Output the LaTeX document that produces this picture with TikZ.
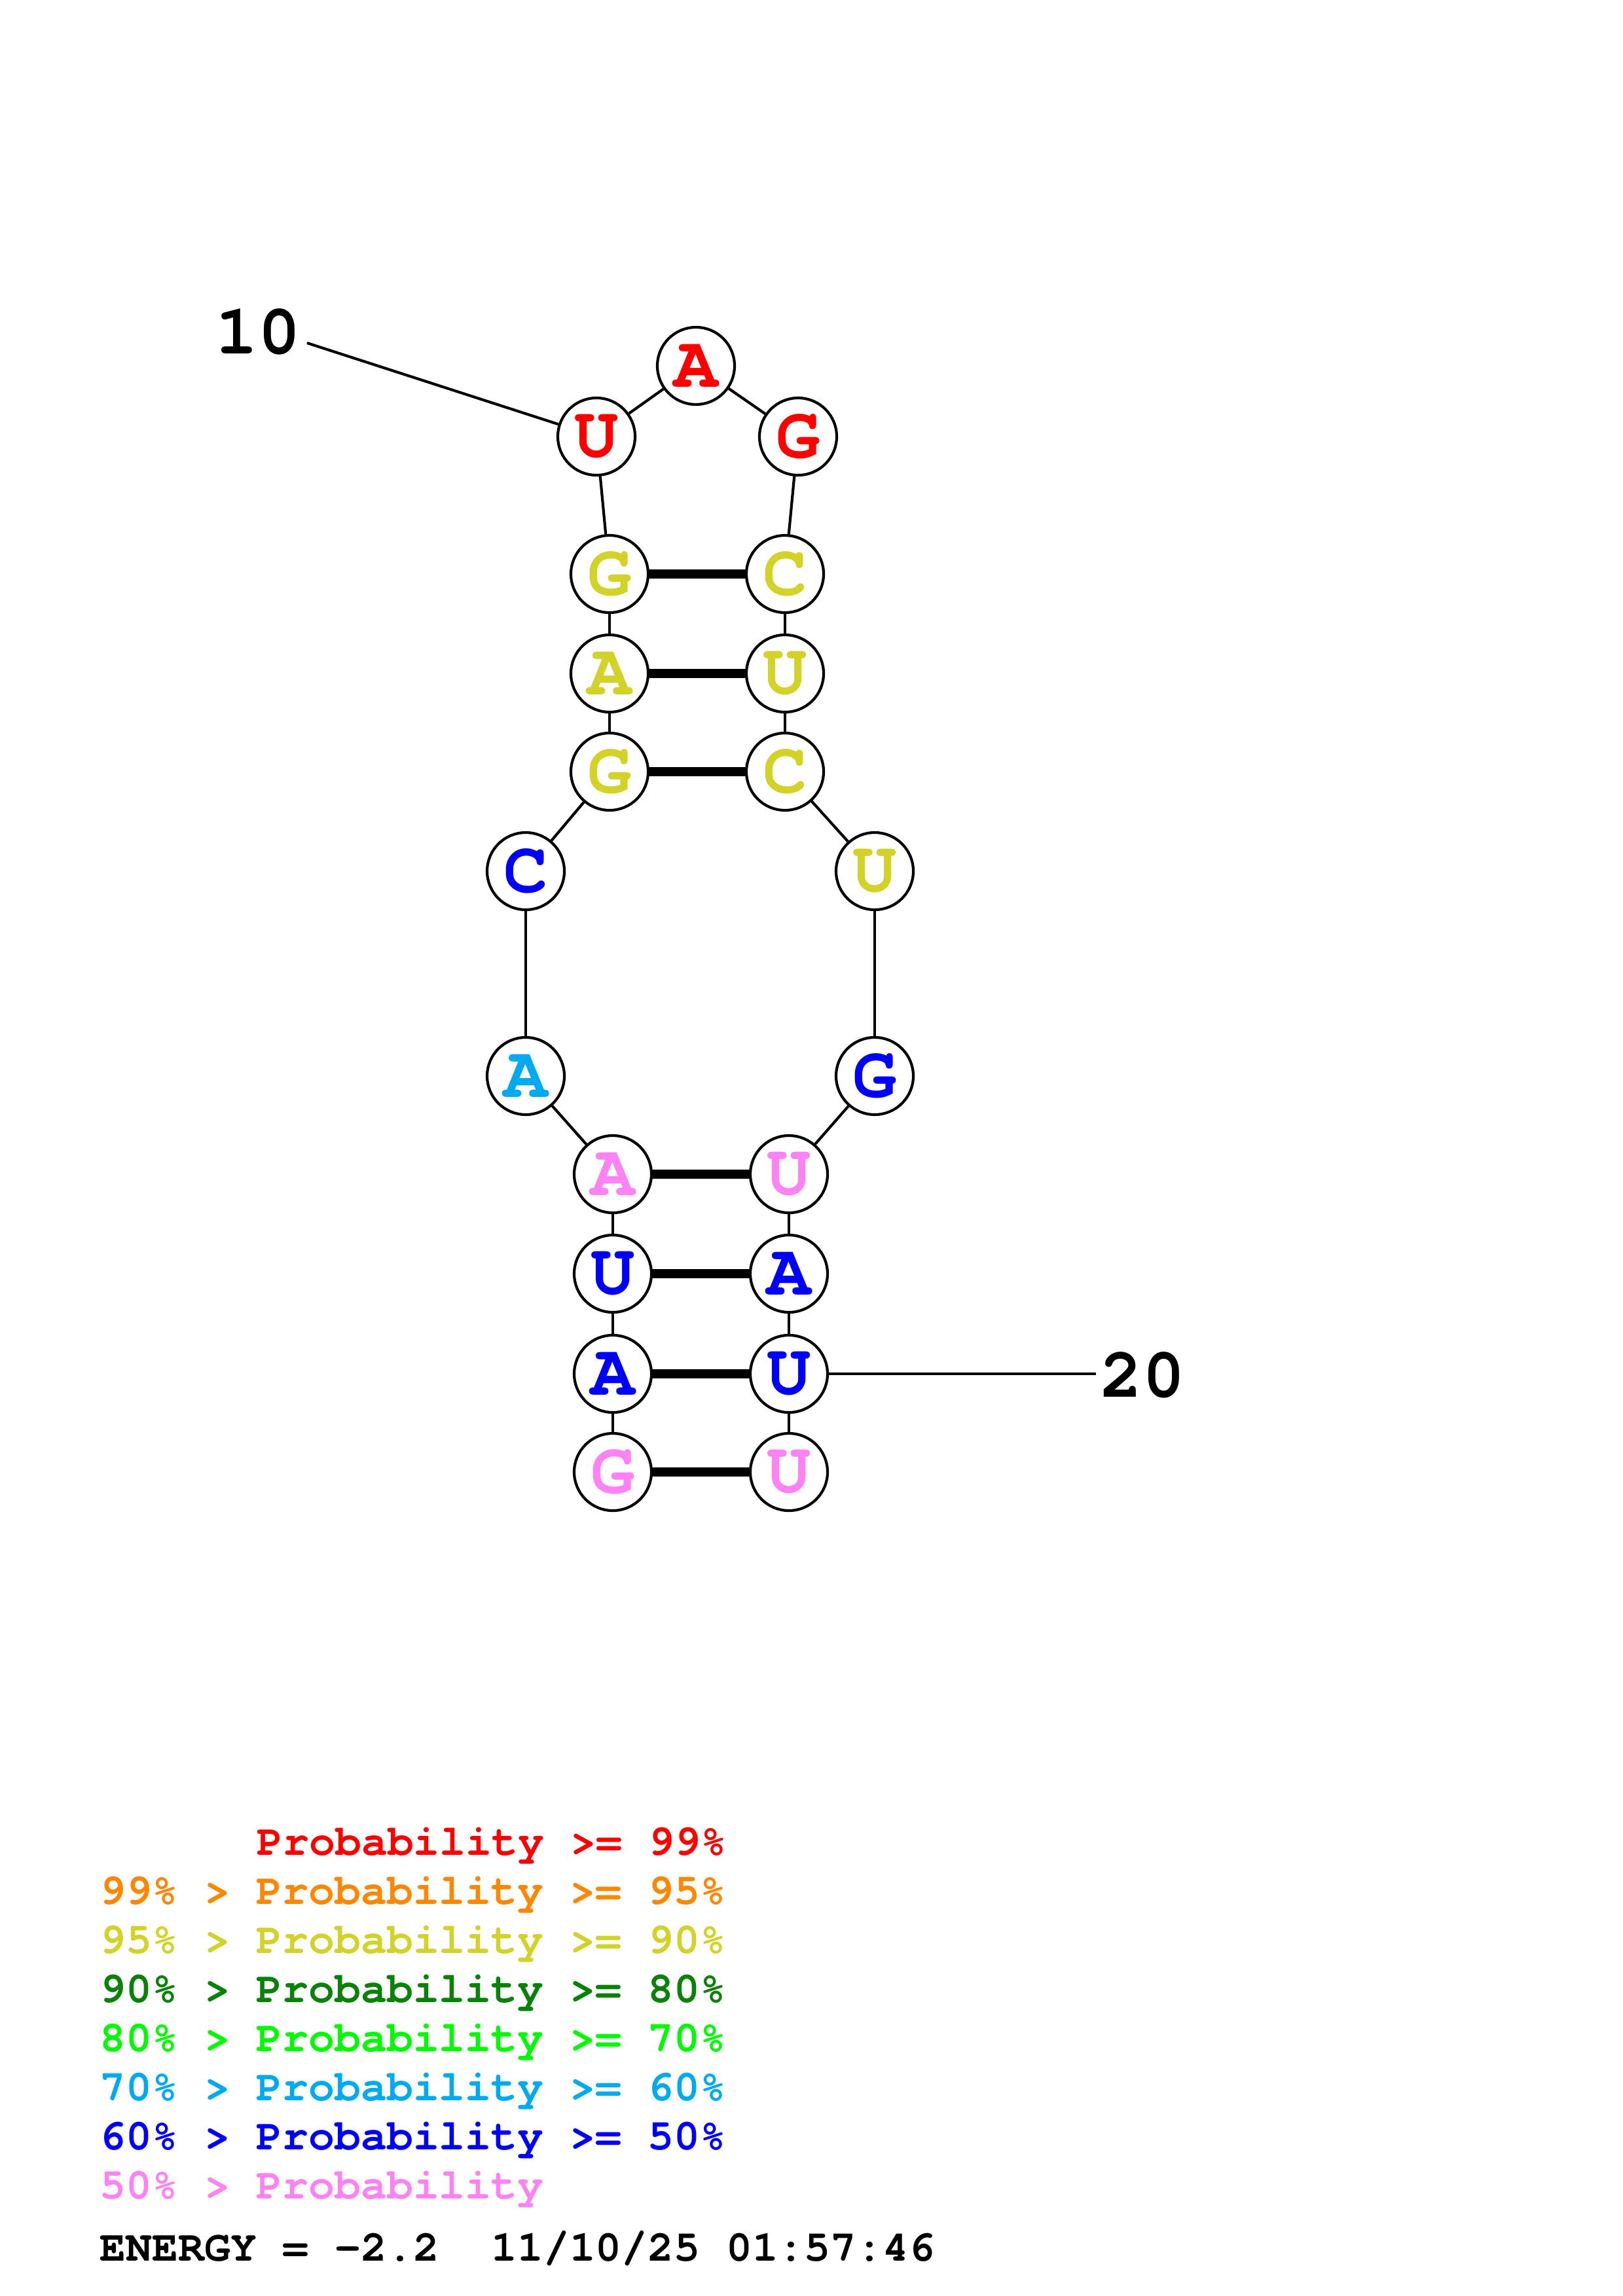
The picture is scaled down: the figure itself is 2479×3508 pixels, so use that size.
\documentclass[tikz,border=0pt]{standalone}
\usepackage{fontspec}
\newfontfamily\cour{TeX Gyre Cursor}
\definecolor{pr}{RGB}{255,0,0}
\definecolor{po}{RGB}{255,135,0}
\definecolor{py}{RGB}{210,210,40}
\definecolor{pdg}{RGB}{10,130,10}
\definecolor{pg}{RGB}{0,250,0}
\definecolor{plb}{RGB}{0,170,240}
\definecolor{pb}{RGB}{0,0,250}
\definecolor{pp}{RGB}{255,130,245}
\begin{document}
\begin{tikzpicture}[x=0.2409pt,y=-0.2409pt,
  nt/.style={circle,draw=black,line width=1pt,fill=white,minimum size=118*0.2409pt,inner sep=0pt,font=\cour\bfseries\fontsize{27}{27}\selectfont},
  bb/.style={line width=1pt},
  bp/.style={line width=3.5pt},
  lg/.style={anchor=base west,inner sep=0pt,font=\cour\bfseries\fontsize{16}{16}\selectfont},
  num/.style={anchor=base west,inner sep=0pt,font=\cour\bfseries\fontsize{26}{26}\selectfont}]
\path[fill=white] (0,0) rectangle (2479,3508);
\useasboundingbox (0,0) rectangle (2479,3508);
% nucleotides
\node[nt,text=pp]  (n1)  at (936,2249) {G};
\node[nt,text=pb]  (n2)  at (936,2099) {A};
\node[nt,text=pb]  (n3)  at (936,1946) {U};
\node[nt,text=pp]  (n4)  at (936,1794) {A};
\node[nt,text=plb] (n5)  at (803,1644) {A};
\node[nt,text=pb]  (n6)  at (803,1331) {C};
\node[nt,text=py]  (n7)  at (931,1179) {G};
\node[nt,text=py]  (n8)  at (931,1029) {A};
\node[nt,text=py]  (n9)  at (931,877) {G};
\node[nt,text=pr]  (n10) at (911,667) {U};
\node[nt,text=pr]  (n11) at (1063,559) {A};
\node[nt,text=pr]  (n12) at (1219,667) {G};
\node[nt,text=py]  (n13) at (1199,877) {C};
\node[nt,text=py]  (n14) at (1199,1029) {U};
\node[nt,text=py]  (n15) at (1199,1179) {C};
\node[nt,text=py]  (n16) at (1336,1331) {U};
\node[nt,text=pb]  (n17) at (1336,1644) {G};
\node[nt,text=pp]  (n18) at (1205,1794) {U};
\node[nt,text=pb]  (n19) at (1205,1946) {A};
\node[nt,text=pb]  (n20) at (1205,2099) {U};
\node[nt,text=pp]  (n21) at (1205,2249) {U};
% backbone
\foreach \a/\b in {1/2,2/3,3/4,4/5,5/6,6/7,7/8,8/9,9/10,10/11,11/12,12/13,13/14,14/15,15/16,16/17,17/18,18/19,19/20,20/21}
  \draw[bb] (n\a) -- (n\b);
% pairs
\foreach \a/\b in {1/21,2/20,3/19,4/18,7/15,8/14,9/13}
  \draw[bp] (n\a) -- (n\b);
% labels
\node[num] (l10) at (329,540) {10};
\coordinate (c10) at (469,524);
\draw[bb] (c10) -- (n10);
\node[num] (l20) at (1680,2134) {20};
\coordinate (c20) at (1674,2099);
\draw[bb] (n20) -- (c20);
% legend
\node[lg,text=pr]  (g1) at (392,2834) {Probability >= 99\%};
\node[lg,text=po]  (g2) at (152,2909) {99\% > Probability >= 95\%};
\node[lg,text=py]  (g3) at (152,2984) {95\% > Probability >= 90\%};
\node[lg,text=pdg] (g4) at (152,3059) {90\% > Probability >= 80\%};
\node[lg,text=pg]  (g5) at (152,3134) {80\% > Probability >= 70\%};
\node[lg,text=plb] (g6) at (152,3209) {70\% > Probability >= 60\%};
\node[lg,text=pb]  (g7) at (152,3284) {60\% > Probability >= 50\%};
\node[lg,text=pp]  (g8) at (152,3359) {50\% > Probability};
\node[lg,text=black] (en) at (152,3454) {ENERGY = -2.2\ \ 11/10/25 01:57:46};
\end{tikzpicture}
\end{document}
